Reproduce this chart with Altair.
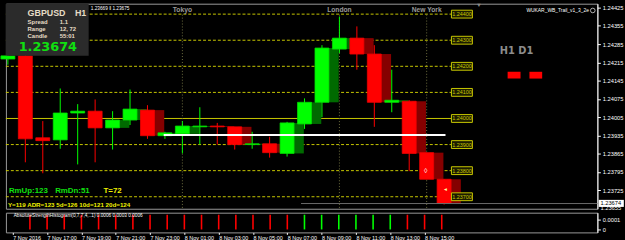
import json
import altair as alt
import pandas as pd

# ---------------- data ----------------
candle_index = list(range(26))  # 0 = 7 Nov 15:00 ... 25 = 8 Nov 16:00 (H1)
opens = [1.24228, 1.24240, 1.23926, 1.23918, 1.24021, 1.24028, 1.23964, 1.23994, 1.24032,
         1.23934, 1.23941, 1.23968, 1.23971, 1.23968, 1.23900, 1.23903, 1.23866, 1.23979,
         1.24062, 1.24266, 1.24308, 1.24247, 1.24062, 1.24066, 1.23869, 1.23767]
highs = [1.24244, 1.24244, 1.23990, 1.24115, 1.24055, 1.24073, 1.24028, 1.24111, 1.24051,
         1.23949, 1.23990, 1.24043, 1.23983, 1.23968, 1.23949, 1.23930, 1.23987, 1.24077,
         1.24281, 1.24391, 1.24353, 1.24281, 1.24187, 1.24070, 1.23869, 1.23767]
lows = [1.24206, 1.23832, 1.23790, 1.23884, 1.23824, 1.23832, 1.23881, 1.23975, 1.23922,
        1.23922, 1.23866, 1.23900, 1.23900, 1.23881, 1.23884, 1.23850, 1.23854, 1.23960,
        1.24005, 1.24251, 1.24187, 1.23968, 1.24024, 1.23798, 1.23767, 1.23670]
closes = [1.24240, 1.23922, 1.23915, 1.24021, 1.24028, 1.23964, 1.23994, 1.24036, 1.23934,
          1.23945, 1.23971, 1.23971, 1.23968, 1.23900, 1.23903, 1.23869, 1.23983, 1.24062,
          1.24270, 1.24308, 1.24247, 1.24062, 1.24070, 1.23866, 1.23767, 1.23674]
trail_from = 6  # the trailing (dark) copies start at this bar

hist_index = list(range(1, 26))
hist_values = [0.000145] * 25
hist_dir = ["dn", "dn", "dn", "dn", "dn", "dn", "dn", "dn", "dn", "dn", "dn", "dn", "dn",
            "dn", "dn", "dn", "up", "up", "up", "up", "up", "up", "dn", "dn", "dn"]

time_ticks = [0, 2, 4, 6, 8, 10, 12, 14, 16, 18, 20, 22, 24]
time_labels = ["7 Nov 2016", "7 Nov 17:00", "7 Nov 19:00", "7 Nov 21:00", "7 Nov 23:00",
               "8 Nov 01:00", "8 Nov 03:00", "8 Nov 05:00", "8 Nov 07:00", "8 Nov 09:00",
               "8 Nov 11:00", "8 Nov 13:00", "8 Nov 15:00"]

price_ticks = [1.24425, 1.24355, 1.24285, 1.24215, 1.24145, 1.24075, 1.24005,
               1.23935, 1.23865, 1.23795, 1.23725]
dashed_levels = [1.24400, 1.24300, 1.24200, 1.24100, 1.23900, 1.23800, 1.23700]
solid_levels = [1.24000]
label_levels = [1.24400, 1.24300, 1.24200, 1.24100, 1.24000, 1.23900, 1.23800, 1.23700]
white_level = [1.23937]
bid_price = 1.23674
session_names = ["Tokyo", "London", "New York"]
session_bars = [10, 19, 24]

# ---------------- scales ----------------
X0, X1 = -0.113, 33.785
Y0, Y1 = 1.23654, 1.24440
xs = alt.Scale(domain=[X0, X1], nice=False, zero=False)
ys = alt.Scale(domain=[Y0, Y1], nice=False, zero=False)
yaxis = alt.Axis(orient="right", values=price_ticks, format=".5f", labelColor="white",
                 labelFontSize=5.8, tickColor="white", tickSize=3, domainColor="white",
                 grid=False, title=None, labelPadding=2, labelFont="Liberation Sans")

UP = "datum.dir == 'up'"


def X(f):
    return alt.X(f, type="quantitative", scale=xs, axis=None)


def Y(f):
    return alt.Y(f, type="quantitative", scale=ys, axis=yaxis)


def col(up, dn):
    return alt.condition(UP, alt.value(up), alt.value(dn))


df = pd.DataFrame(dict(k=candle_index, o=opens, h=highs, l=lows, c=closes))
df["dir"] = ["up" if c >= o else "dn" for o, c in zip(df.o, df.c)]
df["x1"] = df.k - 0.4
df["x2"] = df.k + 0.4
df["s1"] = df.k + 0.17
df["s2"] = df.k + 0.96
trail = df[df.k >= trail_from]

# lines
lv = pd.DataFrame({"p": dashed_levels})
lv["xa"], lv["xb"] = X0, 25.42
hl_dash = alt.Chart(lv).mark_rule(color="#c8c800", strokeDash=[3, 2], strokeWidth=1).encode(
    x=X("xa"), x2="xb", y=Y("p"))
ls = pd.DataFrame({"p": solid_levels})
ls["xa"], ls["xb"] = X0, 25.42
hl_solid = alt.Chart(ls).mark_rule(color="#c8c800", strokeWidth=1).encode(
    x=X("xa"), x2="xb", y=Y("p"))

vs = pd.DataFrame({"k": session_bars, "name": session_names})
vs["pt"], vs["pb"] = 1.24398, Y0
vlines = alt.Chart(vs).mark_rule(color="#707040", strokeDash=[1, 2], strokeWidth=1).encode(
    x=X("k"), y=Y("pt"), y2="pb")

trail_bodies = alt.Chart(trail).mark_rect().encode(
    x=X("s1"), x2="s2", y=Y("o"), y2="c", fill=col("#006a00", "#850000"))
wicks = alt.Chart(df).mark_rule(strokeWidth=1).encode(
    x=X("k"), y=Y("l"), y2="h", color=col("#00ff00", "#ff0000"))
bodies = alt.Chart(df).mark_rect(strokeWidth=0.8).encode(
    x=X("x1"), x2="x2", y=Y("o"), y2="c",
    fill=col("#00ff00", "#ff0000"), stroke=col("#00dd00", "#ee0000"))

wl = pd.DataFrame({"p": white_level})
wl["xa"], wl["xb"] = 8.93, 25.08
white_line = alt.Chart(wl).mark_rule(color="white", strokeWidth=2).encode(
    x=X("xa"), x2="xb", y=Y("p"))
bl = pd.DataFrame({"p": [bid_price]})
bl["xa"], bl["xb"] = 16.8, X1
bid_line = alt.Chart(bl).mark_rule(color="#6a6a6a", strokeWidth=1).encode(
    x=X("xa"), x2="xb", y=Y("p"))

lab = pd.DataFrame({"p": label_levels})
lab["t"] = [f"{v:.5f}" for v in label_levels]
lab["p1"], lab["p2"] = lab.p - 0.00015, lab.p + 0.00015
lab["xa"], lab["xb"], lab["k"] = 25.42, 26.62, 26.02
lab_box = alt.Chart(lab).mark_rect(fill="#1c1c00", stroke="#c8c800", strokeWidth=1).encode(
    x=X("xa"), x2="xb", y=Y("p1"), y2="p2")
lab_txt = alt.Chart(lab).mark_text(color="#c8c800", fontSize=5.5, font="Liberation Sans",
                                   baseline="middle").encode(x=X("k"), y=Y("p"), text="t:N")


def txt(rows, **kw):
    d = pd.DataFrame(rows, columns=["k", "p", "t"])
    base = dict(baseline="middle", font="Liberation Sans")
    base.update(kw)
    return alt.Chart(d).mark_text(**base).encode(x=X("k"), y=Y("p"), text="t:N")


# info panel
panel = pd.DataFrame({"xa": [X0], "xb": [4.63], "pa": [Y1], "pb": [1.24240]})
panel_rect = alt.Chart(panel).mark_rect(fill="#2b2b2b").encode(
    x=X("xa"), x2="xb", y=Y("pa"), y2="pb")
t_sym = txt([[1.13, 1.24406, "GBPUSD"], [3.84, 1.24406, "H1"]],
            align="left", fontSize=9, fontWeight="bold", color="#e6dcc6")
t_info = txt([[1.13, 1.24369, "Spread"], [1.13, 1.24344, "Range"], [1.13, 1.24316, "Candle"],
              [2.97, 1.24369, "1.1"], [2.97, 1.24344, "12, 72"], [2.97, 1.24316, "55:01"]],
             align="left", fontSize=6, fontWeight="bold", color="#e6dcc6")
t_price = txt([[0.62, 1.24272, "1.23674"]], align="left", fontSize=13, fontWeight="bold",
              font="DejaVu Sans", color="#10e010")
t_bidask = txt([[4.75, 1.24421, "1.23669 \u2016 1.23675"]], align="left", fontSize=4.8,
               color="white")
sess = txt([[k, 1.24414, n] for k, n in zip(session_bars, session_names)], align="center",
           fontSize=6.8, fontWeight="bold", color="#9a9a9a")
t_ea = txt([[33.3, 1.24414, "WUKAR_WB_Trail_v1_3_2e"]], align="right", fontSize=5,
           color="white")
ea_icon = alt.Chart(pd.DataFrame({"k": [33.52], "p": [1.24414]})).mark_point(
    shape="circle", size=22, color="white", strokeWidth=1).encode(x=X("k"), y=Y("p"))
t_shift = txt([[27.0, 1.24433, "\u25bc"]], align="center", fontSize=6, color="#8a8a8a")
t_tf = txt([[29.15, 1.24259, "H1  D1"]], align="center", fontSize=10, fontWeight="bold",
           font="DejaVu Sans", color="#8c8c8c")
tf_box = pd.DataFrame({"xa": [28.64, 29.89], "xb": [29.38, 30.62],
                       "pa": [1.24179, 1.24179], "pb": [1.24153, 1.24153]})
tf_rects = alt.Chart(tf_box).mark_rect(fill="#ff0000").encode(
    x=X("xa"), x2="xb", y=Y("pa"), y2="pb")
t_rm = txt([[0.06, 1.23722, "RmUp:123"], [2.71, 1.23722, "RmDn:51"]], align="left",
           fontSize=8, fontWeight="bold", color="#10e010")
t_t = txt([[5.48, 1.23722, "T=72"]], align="left", fontSize=8, fontWeight="bold",
          color="#f0f000")
t_adr = txt([[0.0, 1.23669, "Y=119  ADR=123  5d=126  10d=121  20d=124"]], align="left",
            fontSize=6.3, fontWeight="bold", color="#f0f000")
t_marks = txt([[23.95, 1.23798, "\u25ca"]], align="center", fontSize=7, color="white")
t_marks2 = txt([[25.08, 1.23730, "\u25c4"]], align="center", fontSize=5, color="#ffffa0")
bidbox = pd.DataFrame({"xa": [33.86], "xb": [35.3], "pa": [1.23688], "pb": [1.23661]})
bid_rect = alt.Chart(bidbox).mark_rect(fill="white").encode(
    x=X("xa"), x2="xb", y=Y("pa"), y2="pb")
t_bid = txt([[33.96, bid_price, "1.23674"]], align="left", fontSize=5.8, color="black")
t_low = txt([[33.96, 1.23656, "1.23655"]], align="left", fontSize=5.8, color="white")

main = alt.layer(
    hl_dash, hl_solid, vlines, trail_bodies, wicks, bodies, white_line, bid_line,
    lab_box, lab_txt, panel_rect, t_sym, t_info, t_price, t_bidask, sess, t_ea, ea_icon,
    t_shift, t_tf, tf_rects, t_rm, t_t, t_adr, t_marks, t_marks2, bid_rect, t_bid, t_low
).properties(width=600, height=208)

# ---------------- sub window ----------------
hs = pd.DataFrame({"k": hist_index, "v": hist_values, "dir": hist_dir})
sub_ys = alt.Scale(domain=[-0.000029, 0.000165], nice=False, zero=False)
label_js = json.dumps(time_labels)
hist = alt.Chart(hs).mark_bar(size=1.6).encode(
    x=alt.X("k:Q", scale=xs, title=None,
            axis=alt.Axis(values=time_ticks, labelExpr=f"{label_js}[round(datum.value/2)]",
                          labelAlign="left", labelFlush=False, labelColor="white",
                          labelFontSize=5.5, labelFont="Liberation Sans", tickColor="white",
                          tickSize=2, labelPadding=1, domain=False, grid=False)),
    y=alt.Y("v:Q", scale=sub_ys, title=None,
            axis=alt.Axis(orient="right", values=[0, 0.0001],
                          labelExpr="datum.value == 0 ? '0' : '0.0001'", labelColor="white",
                          labelFontSize=5.8, labelFont="Liberation Sans", tickColor="white",
                          tickSize=3, domainColor="white", grid=False, labelPadding=2)),
    y2=alt.datum(0),
    color=col("#00ff00", "#ff0000"))
hist_lab = alt.Chart(pd.DataFrame({"k": [0.05], "v": [0.000135],
                                   "t": ["AbsoluteStrengthHistogram(0,7,7,4,..1) 0.0006 0.0003 0.0006"]})
                     ).mark_text(align="left", baseline="middle", fontSize=4.8,
                                 font="Liberation Sans", color="white").encode(
    x=alt.X("k:Q", scale=xs), y=alt.Y("v:Q", scale=sub_ys), text="t:N")
sub = alt.layer(hist, hist_lab).properties(width=600, height=20)

chart = alt.vconcat(main, sub, spacing=0).properties(
    padding=0, background="black"
).configure_view(stroke="#9a9a9a", strokeWidth=1)

chart.save("out.html", embed_options={"renderer": "svg", "actions": False})
